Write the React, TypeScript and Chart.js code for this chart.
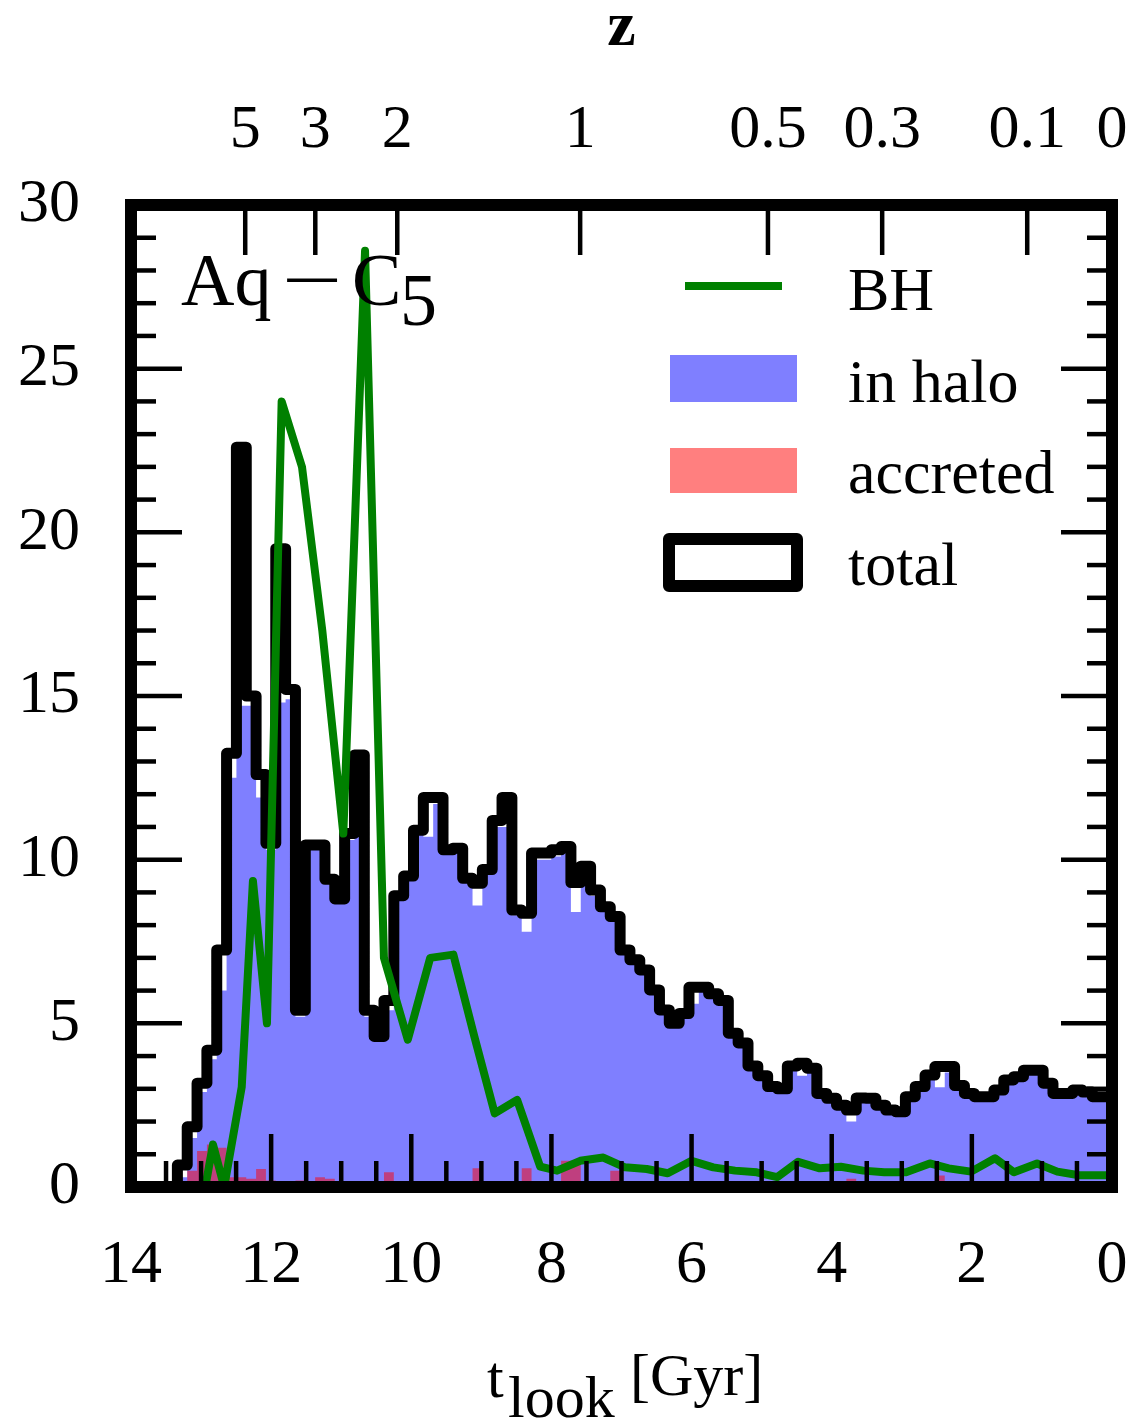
import React, { useEffect, useRef } from 'react';
import { Chart, registerables } from 'chart.js';

Chart.register(...registerables);

// ---- data -------------------------------------------------------------
// histogram bins in lookback time (Gyr): 100 bins of 0.1404 Gyr from 14.04 down to 0
const BIN_START = 14.04;
const BIN_WIDTH = 0.1404;

const totalCounts = [
  0, 0, 0, 0, 0, 0.67, 1.84, 3.17, 4.18, 7.24,
  13.25, 22.6, 15.0, 12.6, 10.5, 19.5, 15.2, 5.4, 10.45, 10.45,
  9.4, 8.8, 10.8, 13.2, 5.4, 4.6, 5.7, 8.9, 9.5, 10.9,
  11.9, 11.9, 10.3, 10.35, 9.43, 9.28, 9.7, 11.2, 11.9, 8.46,
  8.36, 10.2, 10.2, 10.3, 10.4, 9.3, 9.8, 9.07, 8.56, 8.26,
  7.24, 6.94, 6.63, 6.02, 5.41, 5.0, 5.3, 6.1, 6.1, 5.9,
  5.7, 4.7, 4.4, 3.7, 3.4, 3.07, 3.0, 3.7, 3.78, 3.63,
  2.86, 2.71, 2.5, 2.35, 2.72, 2.71, 2.5, 2.35, 2.3, 2.76,
  3.07, 3.42, 3.68, 3.68, 3.1, 2.86, 2.76, 2.76, 2.96, 3.27,
  3.37, 3.57, 3.57, 3.17, 2.86, 2.86, 2.96, 2.9, 2.76, 2.76,
];

const haloCounts = [
  0, 0, 0, 0, 0, 0.3, 1.5, 2.9, 3.9, 6.0,
  12.5, 14.7, 14.7, 11.9, 10.3, 14.8, 14.9, 5.2, 10.3, 10.3,
  9.3, 8.7, 10.6, 10.7, 5.2, 4.5, 5.4, 8.8, 9.4, 10.8,
  10.7, 11.7, 10.2, 10.2, 9.3, 8.6, 9.6, 11.0, 11.0, 8.3,
  7.8, 10.0, 10.0, 10.1, 10.2, 8.4, 9.6, 8.9, 8.4, 8.1,
  7.1, 6.8, 6.5, 5.9, 5.3, 4.9, 5.2, 5.6, 6.0, 5.8,
  5.6, 4.6, 4.3, 3.6, 3.3, 3.0, 2.9, 3.6, 3.4, 3.5,
  2.8, 2.6, 2.4, 2.0, 2.6, 2.6, 2.4, 2.3, 2.2, 2.7,
  3.0, 3.3, 3.05, 3.5, 3.0, 2.8, 2.7, 2.7, 2.9, 3.2,
  3.3, 3.5, 3.5, 3.1, 2.8, 2.8, 2.9, 2.8, 2.7, 2.7,
];

const accretedCounts = [
  0, 0, 0, 0, 0, 0, 0.5, 1.1, 1.3, 1.2,
  0.3, 0.3, 0.25, 0.55, 0.2, 0, 0, 0.2, 0.15, 0.3,
  0.25, 0, 0, 0, 0.15, 0, 0.45, 0, 0, 0,
  0, 0, 0, 0, 0, 0.57, 0, 0, 0, 0,
  0.57, 0, 0, 0, 0.8, 0.8, 0, 0, 0, 0.5,
  0, 0, 0, 0, 0, 0, 0, 0, 0, 0,
  0, 0, 0, 0, 0, 0, 0, 0, 0, 0,
  0, 0, 0, 0.25, 0, 0, 0, 0, 0, 0,
  0, 0, 0.35, 0, 0, 0, 0, 0, 0, 0,
  0, 0.1, 0, 0, 0, 0, 0, 0, 0, 0,
];

const bhTimes = [
  12.94, 12.83, 12.67, 12.42, 12.26, 12.06, 11.85, 11.56, 11.27, 10.97,
  10.66, 10.39, 10.05, 9.73, 9.40, 9.10, 8.81, 8.49, 8.16, 7.92,
  7.59, 7.26, 6.95, 6.64, 6.34, 6.00, 5.69, 5.38, 5.07, 4.78,
  4.48, 4.17, 3.87, 3.55, 3.25, 2.94, 2.60, 2.33, 2.01, 1.67,
  1.40, 1.07, 0.78, 0.47, 0.17, 0.0,
];
const bhValues = [
  0, 1.3, 0, 3.05, 9.35, 5.0, 24.0, 22.0, 17.0, 10.8,
  28.6, 7.0, 4.5, 7.0, 7.1, 4.6, 2.25, 2.66, 0.62, 0.5,
  0.8, 0.9, 0.6, 0.55, 0.42, 0.8, 0.6, 0.5, 0.45, 0.3,
  0.77, 0.57, 0.62, 0.5, 0.45, 0.45, 0.72, 0.57, 0.47, 0.88,
  0.45, 0.72, 0.47, 0.36, 0.36, 0.36,
];

const xTicks = { min: 0, max: 14, step: 2, minorStep: 0.5 };
const yTicks = { min: 0, max: 30, step: 5, minorStep: 1 };
const zLabels = ['5', '3', '2', '1', '0.5', '0.3', '0.1', '0'];
const zTickTimes = [12.37, 11.37, 10.2, 7.59, 4.91, 3.28, 1.21, 0];

const seriesLabels = ['BH', 'in halo', 'accreted', 'total'];
const panelName = 'Aq';
const panelDash = '−';
const panelSim = 'C';
const panelSub = '5';

// ---- styles -----------------------------------------------------------
const FONT = '"Liberation Serif", "Times New Roman", serif';
const BLUE = 'rgba(0,0,255,0.5)';
const PINK = 'rgba(255,0,0,0.5)';
const GREEN = '#008000';

function stepPoints(values: number[]) {
  const pts = values.map((v, k) => ({ x: BIN_START - BIN_WIDTH * k, y: v }));
  pts.push({ x: BIN_START - BIN_WIDTH * values.length, y: values[values.length - 1] });
  return pts;
}

const frameTicksPlugin = {
  id: 'frameTicks',
  afterDatasetsDraw(chart: any) {
    const { ctx, chartArea: a, scales } = chart;
    const xs = scales.x;
    const ys = scales.y;
    const seg = (x1: number, y1: number, x2: number, y2: number) => {
      ctx.beginPath();
      ctx.moveTo(x1, y1);
      ctx.lineTo(x2, y2);
      ctx.stroke();
    };
    ctx.save();
    ctx.strokeStyle = '#000';
    ctx.lineWidth = 4.5;
    ctx.lineCap = 'butt';
    for (let v = yTicks.min; v <= yTicks.max + 1e-9; v += yTicks.minorStep) {
      const py = ys.getPixelForValue(v);
      const len = Math.abs(v % yTicks.step) < 1e-9 ? 51 : 25;
      seg(a.left, py, a.left + len, py);
      seg(a.right, py, a.right - len, py);
    }
    for (let t = xTicks.min; t <= xTicks.max + 1e-9; t += xTicks.minorStep) {
      const px = xs.getPixelForValue(t);
      const len = Math.abs(t % xTicks.step) < 1e-9 ? 53 : 26;
      seg(px, a.bottom, px, a.bottom - len);
    }
    zTickTimes.forEach((t) => {
      const px = xs.getPixelForValue(t);
      seg(px, a.top, px, a.top + 50);
    });
    ctx.lineWidth = 12;
    ctx.lineJoin = 'miter';
    ctx.strokeRect(a.left, a.top, a.right - a.left, a.bottom - a.top);
    ctx.restore();
  },
};

const textPlugin = {
  id: 'texts',
  afterDraw(chart: any) {
    const { ctx, chartArea: a } = chart;
    ctx.save();
    ctx.fillStyle = '#000';
    ctx.textBaseline = 'alphabetic';

    // top axis title
    ctx.textAlign = 'center';
    ctx.font = `bold 64px ${FONT}`;
    ctx.fillText('z', (a.left + a.right) / 2, 45);

    // bottom axis title: t_look [Gyr]
    ctx.textAlign = 'left';
    ctx.font = `60px ${FONT}`;
    ctx.fillText('t', 487, 1397);
    ctx.fillText('look', 508, 1417);
    ctx.fillText('[Gyr]', 630, 1395);

    // panel label  Aq − C_5
    ctx.font = `74px ${FONT}`;
    ctx.fillText(panelName, 181, 305);
    ctx.save();
    ctx.translate(312, 305);
    ctx.scale(1.45, 1);
    ctx.textAlign = 'center';
    ctx.fillText(panelDash, 0, 0);
    ctx.restore();
    ctx.fillText(panelSim, 352, 305);
    ctx.fillText(panelSub, 400, 325);

    // legend
    ctx.font = `62px ${FONT}`;
    const textX = 848;
    const rows = [310, 402, 493, 585];
    ctx.strokeStyle = GREEN;
    ctx.lineWidth = 8;
    ctx.lineCap = 'butt';
    ctx.beginPath();
    ctx.moveTo(685, 286);
    ctx.lineTo(782, 286);
    ctx.stroke();
    ctx.fillStyle = BLUE;
    ctx.fillRect(670, 355, 127, 47);
    ctx.fillStyle = PINK;
    ctx.fillRect(670, 448, 127, 45);
    ctx.strokeStyle = '#000';
    ctx.lineWidth = 12;
    ctx.lineJoin = 'round';
    ctx.strokeRect(669, 539, 128, 47);
    ctx.fillStyle = '#000';
    seriesLabels.forEach((lab, i) => ctx.fillText(lab, textX, rows[i]));
    ctx.restore();
  },
};

export default function App() {
  const ref = useRef<HTMLCanvasElement | null>(null);

  useEffect(() => {
    if (!ref.current) return;
    const tickFont = { family: FONT, size: 62 };
    const zAscending = zTickTimes.slice().sort((p, q) => p - q);
    const chart = new Chart(ref.current, {
      type: 'line',
      data: {
        datasets: [
          {
            label: seriesLabels[0],
            data: bhTimes.map((t, i) => ({ x: t, y: bhValues[i] })),
            borderColor: GREEN,
            borderWidth: 8,
            pointRadius: 0,
            tension: 0,
            fill: false,
            order: 0,
            borderJoinStyle: 'round',
          },
          {
            label: seriesLabels[3],
            data: stepPoints(totalCounts),
            borderColor: '#000',
            borderWidth: 11,
            pointRadius: 0,
            stepped: true,
            fill: false,
            order: 1,
            borderJoinStyle: 'round',
            borderCapStyle: 'round',
          },
          {
            label: seriesLabels[2],
            data: stepPoints(accretedCounts),
            borderWidth: 0,
            borderColor: 'rgba(0,0,0,0)',
            backgroundColor: PINK,
            pointRadius: 0,
            stepped: true,
            fill: 'origin',
            order: 2,
          },
          {
            label: seriesLabels[1],
            data: stepPoints(haloCounts),
            borderWidth: 0,
            borderColor: 'rgba(0,0,0,0)',
            backgroundColor: BLUE,
            pointRadius: 0,
            stepped: true,
            fill: 'origin',
            order: 3,
          },
        ],
      },
      options: {
        responsive: false,
        animation: false,
        devicePixelRatio: 1,
        layout: { padding: { left: 0, right: 27, top: 0, bottom: 0 } },
        plugins: { legend: { display: false }, tooltip: { enabled: false } },
        scales: {
          x: {
            type: 'linear',
            position: 'bottom',
            min: xTicks.min,
            max: xTicks.max,
            reverse: true,
            grid: { display: false, drawTicks: false },
            border: { display: false },
            ticks: {
              stepSize: xTicks.step,
              autoSkip: false,
              maxRotation: 0,
              padding: 42,
              color: '#000',
              font: tickFont,
            },
            afterFit: (s: any) => {
              s.height = 233;
              s.paddingLeft = 0;
              s.paddingRight = 0;
            },
          },
          x2: {
            type: 'linear',
            position: 'top',
            min: xTicks.min,
            max: xTicks.max,
            reverse: true,
            grid: { display: false, drawTicks: false },
            border: { display: false },
            afterBuildTicks: (s: any) => {
              s.ticks = zAscending.map((v) => ({ value: v }));
            },
            ticks: {
              autoSkip: false,
              maxRotation: 0,
              padding: 37,
              color: '#000',
              font: tickFont,
              callback: (v: any) => zLabels[zTickTimes.indexOf(Number(v))],
            },
            afterFit: (s: any) => {
              s.height = 205;
              s.paddingLeft = 0;
              s.paddingRight = 0;
            },
          },
          y: {
            type: 'linear',
            position: 'left',
            min: yTicks.min,
            max: yTicks.max,
            grid: { display: false, drawTicks: false },
            border: { display: false },
            ticks: {
              stepSize: yTicks.step,
              padding: 51,
              color: '#000',
              font: tickFont,
            },
            afterFit: (s: any) => {
              s.width = 131;
            },
          },
        },
      },
      plugins: [frameTicksPlugin, textPlugin],
    } as any);
    return () => chart.destroy();
  }, []);

  return (
    <div style={{ position: 'fixed', left: 0, top: 0, width: 1139, height: 1420, background: '#fff' }}>
      <canvas ref={ref} width={1139} height={1420} style={{ display: 'block' }} />
    </div>
  );
}
